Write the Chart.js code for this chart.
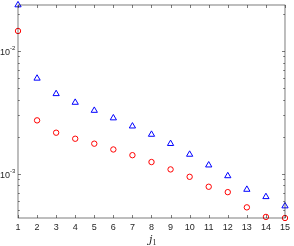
<!DOCTYPE html>
<html>
<head>
<meta charset="utf-8">
<script src="https://cdn.jsdelivr.net/npm/chart.js@4/dist/chart.umd.min.js"></script>
<style>
  html, body { margin: 0; padding: 0; background: #fff; }
  #wrap { position: relative; width: 294px; height: 246px; }
</style>
</head>
<body>
<div id="wrap"><canvas id="c"></canvas></div>
<script>
// values (log y axis)
const j1 = [1, 2, 3, 4, 5, 6, 7, 8, 9, 10, 11, 12, 13, 14, 15];
const triSeries = [0.0236, 0.00596, 0.00446, 0.00379, 0.00326, 0.00283, 0.00243, 0.00208,
                   0.00175, 0.00143, 0.00117, 0.000956, 0.000741, 0.000646, 0.000543];
const circSeries = [0.0145, 0.00271, 0.00215, 0.00192, 0.00175, 0.00157, 0.00141, 0.00124,
                    0.00108, 0.00094, 0.00078, 0.000705, 0.00053, 0.000443, 0.000434];
const yMajor = [{ v: 1e-2, exp: '-2' }, { v: 1e-3, exp: '-3' }];
const Y_MIN = 0.000434, Y_MAX = 0.0236;

const AX = '#262626';
const FONT = "'Liberation Sans', Arial, sans-serif";

const pts = arr => arr.map((v, i) => ({ x: j1[i], y: v }));

// MATLAB-style box: inward ticks, minor log ticks, superscript labels, j_1 label
const boxAxes = {
  id: 'boxAxes',
  afterDraw(chart) {
    const { ctx, chartArea: a, scales: { x, y } } = chart;
    ctx.save();
    ctx.strokeStyle = AX;
    ctx.lineWidth = 0.6;
    ctx.strokeRect(a.left, a.top, a.right - a.left, a.bottom - a.top);

    ctx.beginPath();
    j1.forEach(v => {
      const px = Math.round(x.getPixelForValue(v)) + 0.5;
      ctx.moveTo(px, a.bottom); ctx.lineTo(px, a.bottom - 3);
      ctx.moveTo(px, a.top); ctx.lineTo(px, a.top + 3);
    });
    for (let e = -4; e <= -1; e++) {
      for (let m = 1; m <= 9; m++) {
        const v = m * Math.pow(10, e);
        if (v < Y_MIN || v > Y_MAX) continue;
        const len = m === 1 ? 3 : 1.8;
        const py = Math.round(y.getPixelForValue(v)) + 0.5;
        ctx.moveTo(a.left, py); ctx.lineTo(a.left + len, py);
        ctx.moveTo(a.right, py); ctx.lineTo(a.right - len, py);
      }
    }
    ctx.stroke();

    ctx.fillStyle = AX;
    ctx.textBaseline = 'middle';
    yMajor.forEach(t => {
      const py = y.getPixelForValue(t.v);
      ctx.font = '9px ' + FONT;
      ctx.textAlign = 'left';
      ctx.fillText('10', 0, py + 2);
      ctx.font = '6px ' + FONT;
      ctx.fillText(t.exp, 10, py - 2);
    });

    const cx = (a.left + a.right) / 2;
    ctx.font = 'italic 11px "DejaVu Serif", "Liberation Serif", serif';
    ctx.textAlign = 'right';
    ctx.fillText('j', cx + 1, 240);
    ctx.font = '8px "Liberation Serif", serif';
    ctx.textAlign = 'left';
    ctx.fillText('1', cx + 1, 243);
    ctx.restore();
  }
};

new Chart(document.getElementById('c'), {
  type: 'scatter',
  data: {
    datasets: [
      { data: pts(triSeries), pointStyle: 'triangle', pointRadius: 3.6, borderColor: '#0000ff',
        backgroundColor: 'rgba(0,0,0,0)', borderWidth: 1, clip: false },
      { data: pts(circSeries), pointStyle: 'circle', pointRadius: 2.7, borderColor: '#ff0000',
        backgroundColor: 'rgba(0,0,0,0)', borderWidth: 1, clip: false }
    ]
  },
  options: {
    responsive: true, maintainAspectRatio: false, animation: false,
    layout: { padding: { top: 4.5, right: 4, left: 0, bottom: 0 } },
    plugins: { legend: { display: false }, tooltip: { enabled: false } },
    scales: {
      x: {
        type: 'linear', min: 1, max: 15,
        grid: { display: false, drawTicks: false }, border: { display: false },
        ticks: { stepSize: 1, padding: 4, color: AX, font: { family: FONT, size: 9 }, maxRotation: 0, autoSkip: false },
        afterFit: s => { s.height = 28; }
      },
      y: {
        type: 'logarithmic', min: Y_MIN, max: Y_MAX,
        grid: { display: false, drawTicks: false }, border: { display: false },
        ticks: { display: false },
        afterFit: s => { s.width = 18; }
      }
    }
  },
  plugins: [boxAxes]
});
</script>
</body>
</html>
